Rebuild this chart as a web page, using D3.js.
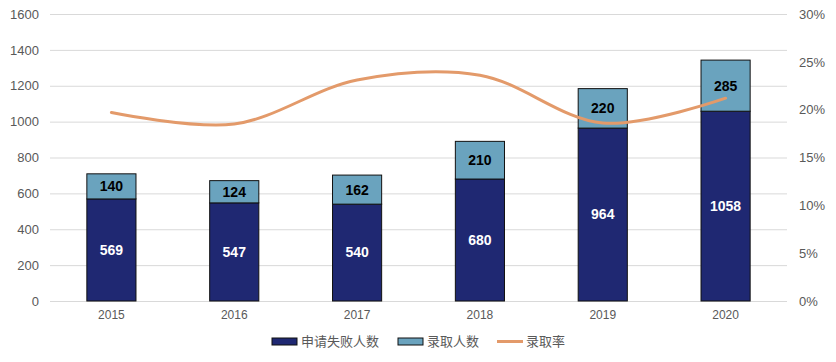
<!DOCTYPE html>
<html>
<head>
<meta charset="utf-8">
<script src="https://cdn.jsdelivr.net/npm/d3@7"></script>
<style>
  body { margin: 0; background: #fff; }
  svg { display: block; font-family: "Liberation Sans", Arial, sans-serif; }
</style>
</head>
<body>
<div id="chart"></div>
<script>
var years = ["2015", "2016", "2017", "2018", "2019", "2020"];
var failed = [569, 547, 540, 680, 964, 1058];
var admitted = [140, 124, 162, 210, 220, 285];
var rate = [19.7, 18.5, 23.1, 23.6, 18.6, 21.2];
var leftTicks = [0, 200, 400, 600, 800, 1000, 1200, 1400, 1600];
var rightTicks = [0, 5, 10, 15, 20, 25, 30];

var W = 836, H = 362;
var plotL = 50, plotR = 787, plotT = 14, plotB = 301;

var svg = d3.select("#chart").append("svg").attr("width", W).attr("height", H);

var x = d3.scaleBand().domain(years).range([plotL, plotR]).padding(0);
var y = d3.scaleLinear().domain([0, 1600]).range([plotB, plotT]);
var y2 = d3.scaleLinear().domain([0, 30]).range([plotB, plotT]);

// gridlines
svg.append("g").selectAll("line").data(leftTicks).enter().append("line")
  .attr("x1", plotL).attr("x2", plotR)
  .attr("y1", function(d) { return y(d) + 0.5; })
  .attr("y2", function(d) { return y(d) + 0.5; })
  .attr("stroke", "#d9d9d9").attr("stroke-width", 1);

// left axis
var ga = svg.append("g").attr("transform", "translate(" + (plotL - 11) + ",0)")
  .call(d3.axisLeft(y).tickValues(leftTicks).tickSize(0).tickPadding(0).tickFormat(d3.format("d")));
ga.select(".domain").remove();
ga.selectAll("text").attr("fill", "#595959").style("font-size", "13px");

// right axis
var gr = svg.append("g").attr("transform", "translate(" + (plotR + 12) + ",0)")
  .call(d3.axisRight(y2).tickValues(rightTicks).tickSize(0).tickPadding(0)
    .tickFormat(function(d) { return d + "%"; }));
gr.select(".domain").remove();
gr.selectAll("text").attr("fill", "#595959").style("font-size", "13px");

// bottom axis
var gb = svg.append("g").attr("transform", "translate(0," + (plotB + 9) + ")")
  .call(d3.axisBottom(x).tickSize(0).tickPadding(0));
gb.select(".domain").remove();
gb.selectAll("text").attr("fill", "#595959").style("font-size", "12px");

var bw = x.bandwidth() * 0.4;
function bx(i) { return x(years[i]) + x.bandwidth() / 2 - bw / 2; }

var dark = "#1f2872", light = "#6aa3be", orange = "#e39a6a";

// bars
var bars = svg.append("g");
years.forEach(function(yr, i) {
  bars.append("rect")
    .attr("x", bx(i)).attr("width", bw)
    .attr("y", y(failed[i])).attr("height", y(0) - y(failed[i]))
    .attr("fill", dark).attr("stroke", "#111").attr("stroke-width", 1);
  bars.append("rect")
    .attr("x", bx(i)).attr("width", bw)
    .attr("y", y(failed[i] + admitted[i])).attr("height", y(failed[i]) - y(failed[i] + admitted[i]))
    .attr("fill", light).attr("stroke", "#111").attr("stroke-width", 1);
});

// line
var line = d3.line()
  .x(function(d, i) { return x(years[i]) + x.bandwidth() / 2; })
  .y(function(d) { return y2(d); })
  .curve(d3.curveCatmullRom.alpha(0.5));
svg.append("path").datum(rate).attr("d", line)
  .attr("fill", "none").attr("stroke", orange).attr("stroke-width", 3)
  .attr("stroke-linecap", "round");

// labels
var lab = svg.append("g").style("font-family", "'Liberation Sans Narrow', 'Liberation Sans', Arial, sans-serif")
  .style("font-weight", "bold").style("font-size", "14px").attr("text-anchor", "middle");
years.forEach(function(yr, i) {
  var cx = x(yr) + x.bandwidth() / 2;
  lab.append("text").attr("x", cx).attr("y", y(failed[i] / 2)).attr("dy", "0.35em")
    .attr("fill", "#fff").text(failed[i]);
  lab.append("text").attr("x", cx).attr("y", y(failed[i] + admitted[i] / 2)).attr("dy", "0.35em")
    .attr("fill", "#000").text(admitted[i]);
});

// legend
var legend = [
  { name: "申请失败人数", type: "rect", color: dark, x: 272 },
  { name: "录取人数", type: "rect", color: light, x: 398 },
  { name: "录取率", type: "line", color: orange, x: 497 }
];
var lg = svg.append("g").style("font-family", "'Noto Sans CJK SC', sans-serif").style("font-size", "13px");
legend.forEach(function(d) {
  if (d.type === "rect") {
    lg.append("rect").attr("x", d.x).attr("y", 338).attr("width", 25).attr("height", 7)
      .attr("fill", d.color).attr("stroke", "#111").attr("stroke-width", 1);
  } else {
    lg.append("line").attr("x1", d.x).attr("x2", d.x + 26).attr("y1", 341.5).attr("y2", 341.5)
      .attr("stroke", d.color).attr("stroke-width", 3);
  }
  lg.append("text").attr("x", d.x + 29).attr("y", 341.5).attr("dy", "0.35em")
    .attr("fill", "#595959").text(d.name);
});
</script>
</body>
</html>
